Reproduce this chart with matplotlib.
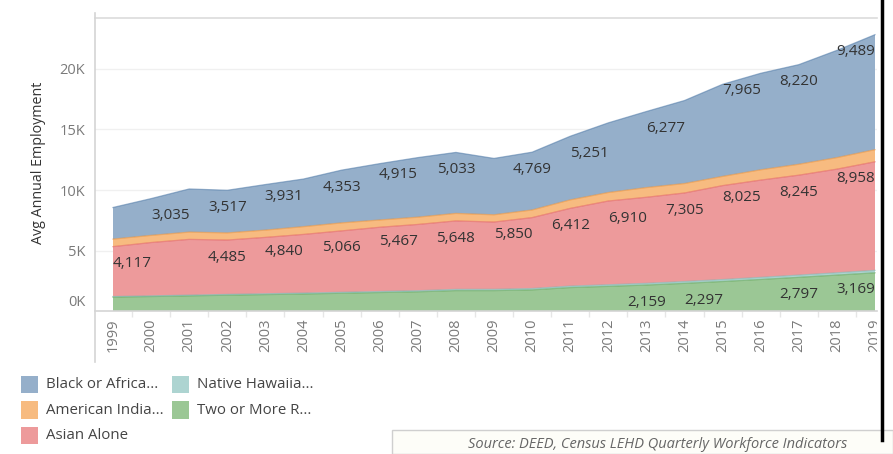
import matplotlib
matplotlib.use("Agg")
import matplotlib.pyplot as plt
import numpy as np
from matplotlib.patches import Rectangle
from matplotlib.lines import Line2D
from matplotlib import transforms

plt.rcParams['font.family'] = ['Open Sans', 'DejaVu Sans']

# ---------------- data ----------------
years = list(range(1999, 2020))
two_or_more = [1160, 1210, 1265, 1320, 1370, 1420, 1480, 1540, 1600, 1700, 1700,
               1760, 1950, 2050, 2159, 2297, 2450, 2620, 2797, 2980, 3169]
native_hawaiian = [50, 55, 60, 65, 70, 75, 80, 85, 90, 100, 105,
                   110, 120, 130, 140, 150, 160, 170, 180, 190, 200]
asian = [4117, 4400, 4600, 4485, 4650, 4840, 5066, 5300, 5467, 5648, 5550,
         5850, 6412, 6910, 7100, 7305, 7750, 8025, 8245, 8550, 8958]
american_indian = [620, 590, 600, 590, 600, 640, 660, 600, 600, 620, 600,
                   630, 700, 700, 800, 780, 760, 850, 900, 950, 1000]
black = [2610, 3035, 3560, 3517, 3760, 3931, 4353, 4650, 4915, 5033, 4650,
         4769, 5251, 5750, 6277, 6850, 7600, 7965, 8220, 8850, 9489]

series_names = ["Two or More R...", "Native Hawaiia...", "Asian Alone",
                "American India...", "Black or Africa..."]
series_values = [two_or_more, native_hawaiian, asian, american_indian, black]
series_colors = ["#59A14F", "#76B7B2", "#E15759", "#F28E2B", "#4E79A7"]

# labelled points: (series index, year, alignment)
label_points = [
    (4, 2000, 'left'), (4, 2002, 'center'), (4, 2004, 'right'), (4, 2005, 'center'),
    (4, 2007, 'right'), (4, 2008, 'center'), (4, 2010, 'center'), (4, 2011, 'left'),
    (4, 2013, 'left'), (4, 2016, 'right'), (4, 2017, 'center'), (4, 2019, 'right'),
    (2, 1999, 'left'), (2, 2002, 'center'), (2, 2004, 'right'), (2, 2005, 'center'),
    (2, 2007, 'right'), (2, 2008, 'center'), (2, 2010, 'right'), (2, 2011, 'center'),
    (2, 2012, 'left'), (2, 2014, 'center'), (2, 2016, 'right'), (2, 2017, 'center'),
    (2, 2019, 'right'),
    (0, 2013, 'center'), (0, 2014, 'left'), (0, 2017, 'center'), (0, 2019, 'right'),
]

ytick_vals = [0, 5000, 10000, 15000, 20000]
ytick_labels = ["0K", "5K", "10K", "15K", "20K"]


def blend(hex_color, alpha=0.6):
    c = np.array(matplotlib.colors.to_rgb(hex_color))
    return tuple(alpha * c + (1 - alpha) * np.ones(3))


W, H = 893, 454
fig = plt.figure(figsize=(W / 100, H / 100), dpi=100)
fig.patch.set_facecolor("white")

x_left, x_right, y_top, y_bot = 95, 877, 18.3, 311.2
ax = fig.add_axes([x_left / W, 1 - y_bot / H, (x_right - x_left) / W, (y_bot - y_top) / H])

x = np.array(years, dtype=float)
stack = np.vstack(series_values).astype(float)
cum = np.cumsum(stack, axis=0)
base = np.zeros_like(x)
for i, (vals, col) in enumerate(zip(series_values, series_colors)):
    top = cum[i]
    ax.fill_between(x, base, top, facecolor=blend(col), edgecolor='none', zorder=2)
    ax.plot(x, top, color=col, lw=0.9, alpha=0.55, zorder=3)
    base = top

# data labels
for si, yr, ha in label_points:
    idx = years.index(yr)
    val = series_values[si][idx]
    ax.annotate(f"{val:,}", xy=(yr, cum[si][idx]), xytext=(0, -12.3),
                textcoords='offset points', ha=ha, va='center',
                fontsize=11, color="#333333", zorder=5)

px_per_year = 38.1
ax.set_xlim(1999 - (113 - x_left) / px_per_year, 1999 + (x_right - 113) / px_per_year)
ax.set_ylim(0, (y_bot - y_top) / 12.12 * 1000)

for s in ax.spines.values():
    s.set_visible(False)

ax.set_yticks(ytick_vals)
ax.set_yticklabels(ytick_labels)
ax.tick_params(axis='y', length=0, pad=7, labelsize=10.5, labelcolor="#7a7a7a")
zero_lbl = ax.get_yticklabels()[0]
zero_lbl.set_transform(zero_lbl.get_transform() +
                       transforms.ScaledTranslation(0, 7.5 / 72, fig.dpi_scale_trans))

ax.set_xticks(years)
ax.set_xticklabels([str(y) for y in years], rotation=90, va='top')
ax.tick_params(axis='x', length=0, pad=5, labelsize=10.5, labelcolor="#7a7a7a")
ax.set_xticks([y + 0.5 for y in years[:-1]], minor=True)
ax.tick_params(axis='x', which='minor', length=4, color="#e6e6e6", width=1)

for v in ytick_vals[1:]:
    ax.axhline(v, color="#f0f0f0", lw=1, zorder=1)
ax.axhline(0, color="#d4d4d4", lw=1.2, zorder=4, clip_on=False)
ax.axhline(ax.get_ylim()[1], color="#dcdcdc", lw=1.2, zorder=4, clip_on=False)

# the pane is cut at its right edge: mask the right half of the last year label
fig.add_artist(Rectangle((x_right / W, 1 - 365 / H), (881 - x_right) / W, (365 - 312.5) / H,
                         facecolor="white", edgecolor="none", transform=fig.transFigure,
                         zorder=10))

# left axis line (spans header area too)
fig.add_artist(Line2D([x_left / W, x_left / W], [1 - 13 / H, 1 - 362 / H],
                      color="#d4d4d4", lw=1.2))

fig.text(38.5 / W, 1 - 163 / H, "Avg Annual Employment", rotation=90,
         ha='center', va='center', fontsize=10.3, color="#333333")

# legend (column-major order as in the reference)
legend_order = [4, 3, 2, 1, 0]
col_x = [20.7, 171.7]
row_y = [384.7, 410.0, 435.3]
sw = 17.5
for k, si in enumerate(legend_order):
    c, r = divmod(k, 3)
    lx, ly = col_x[c], row_y[r]
    fig.add_artist(Rectangle((lx / W, 1 - (ly + sw / 2) / H), sw / W, sw / H,
                             facecolor=blend(series_colors[si]), edgecolor='none',
                             transform=fig.transFigure))
    fig.text((lx + 25) / W, 1 - ly / H, series_names[si], ha='left', va='center',
             fontsize=10.8, color="#444444")

# source box
fig.add_artist(Rectangle((392 / W, 0), (W - 392) / W, 1 - 430 / H,
                         facecolor="#fdfdf8", edgecolor="#cfcfcf", lw=1,
                         transform=fig.transFigure))
fig.text(658 / W, 1 - 444 / H, "Source: DEED, Census LEHD Quarterly Workforce Indicators",
         ha='center', va='center', fontsize=10.5, style='italic', color="#666666")

# right dark border
fig.add_artist(Line2D([882 / W, 882 / W], [1.0, 1 - 440 / H], color="black", lw=2.5,
                      zorder=11))

fig.savefig("out.png", dpi=100)
